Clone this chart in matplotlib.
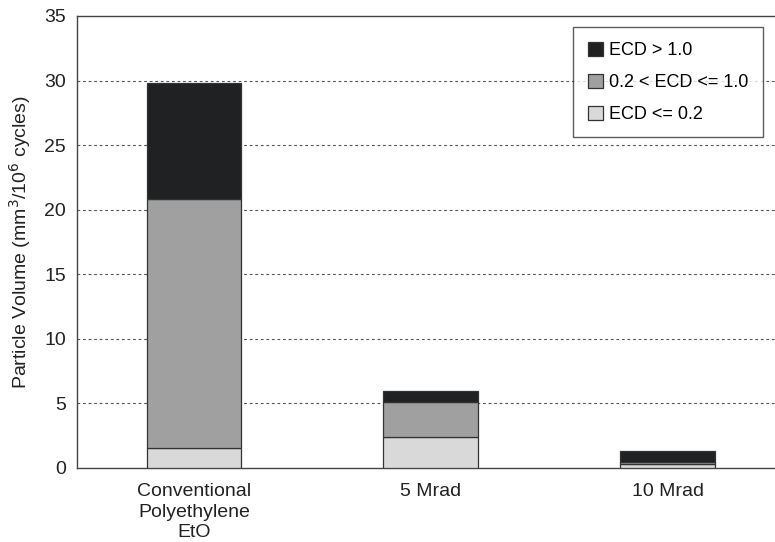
import numpy as np
import matplotlib.pyplot as plt

plt.rcParams['font.family'] = ['Liberation Sans', 'DejaVu Sans']

categories = ["Conventional\nPolyethylene\nEtO", "5 Mrad", "10 Mrad"]
ecd_small = [1.55, 2.4, 0.28]     # ECD <= 0.2
ecd_mid = [19.3, 2.7, 0.21]       # 0.2 < ECD <= 1.0
ecd_large = [9.0, 0.86, 0.83]     # ECD > 1.0

x = np.arange(len(categories))
w = 0.4
edge = '#333333'

fig = plt.figure(figsize=(7.75, 5.42), dpi=100)
ax = fig.add_axes([77/775, 74/542, 698/775, 452/542])

b1 = ax.bar(x, ecd_small, w, color='#d9d9d9', edgecolor=edge, linewidth=0.9,
            label='ECD <= 0.2', zorder=3)
bottom2 = np.array(ecd_small)
b2 = ax.bar(x, ecd_mid, w, bottom=bottom2, color='#a0a0a0', edgecolor=edge,
            linewidth=0.9, label='0.2 < ECD <= 1.0', zorder=3)
bottom3 = bottom2 + np.array(ecd_mid)
b3 = ax.bar(x, ecd_large, w, bottom=bottom3, color='#202122', edgecolor=edge,
            linewidth=0.9, label='ECD > 1.0', zorder=3)

ax.set_ylim(0, 35)
ax.set_xlim(-0.494, 2.454)
ax.set_yticks(range(0, 36, 5))
ax.set_xticks(x)
ax.set_xticklabels(categories, fontsize=14, linespacing=1.25)
ax.tick_params(axis='both', length=0, labelsize=14, colors='#222222')
ax.tick_params(axis='x', pad=11)
ax.tick_params(axis='y', pad=8)

for y in range(5, 35, 5):
    ax.axhline(y, color='#555555', linestyle=(0, (2.5, 2.5)), linewidth=0.8, zorder=1)

ax.spines['right'].set_visible(False)
for s in ['left', 'bottom', 'top']:
    ax.spines[s].set_color('#444444')
    ax.spines[s].set_linewidth(1.0)

ax.set_ylabel('Particle Volume (mm$^3$/10$^6$ cycles)', fontsize=14, color='#222222', labelpad=8)

leg = ax.legend(handles=[b3, b2, b1], loc='upper right', bbox_to_anchor=(0.983, 0.975),
                fontsize=13, frameon=True, fancybox=False, edgecolor='#333333',
                handlelength=0.85, handleheight=0.85, handletextpad=0.35,
                labelspacing=0.8, borderpad=0.8, borderaxespad=0)
leg.get_frame().set_linewidth(1.0)

fig.savefig('out.png', dpi=100)
